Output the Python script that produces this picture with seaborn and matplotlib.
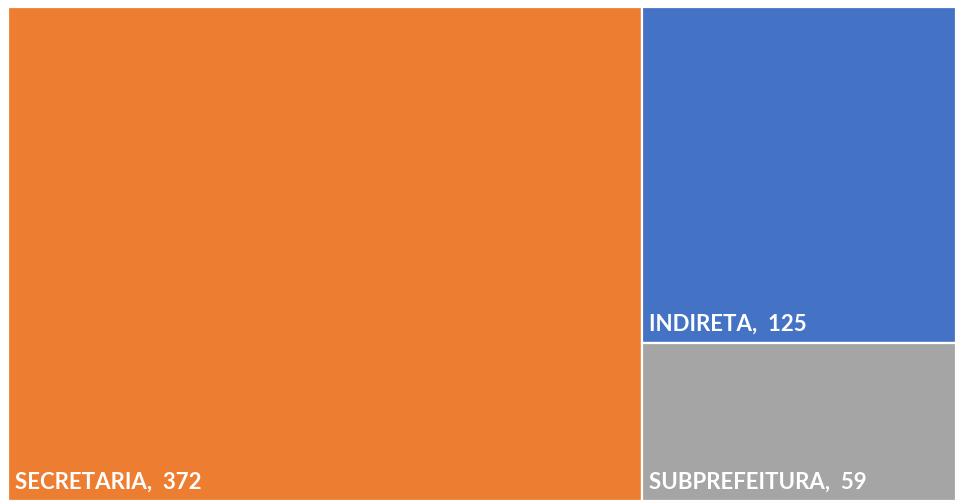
import numpy as np
import pandas as pd
import seaborn as sns
import matplotlib.pyplot as plt

categories = ["SECRETARIA", "INDIRETA", "SUBPREFEITURA"]
values = [372, 125, 59]
colors = ["#ED7D31", "#4472C4", "#A5A5A5"]

sns.set_theme(style="white")
plt.rcParams['font.family'] = ['Lato', 'DejaVu Sans']

df = pd.DataFrame({"cat": categories, "val": values, "color": colors})
total = df["val"].sum()

# simple slice-and-dice: first item takes a column, rest stacked on the right
first_w = df["val"][0] / total
rest = df["val"][1:].sum()
rects = [(0, 0, first_w, 1)]
y = 1.0
for v in df["val"][1:]:
    h = v / rest
    y -= h
    rects.append((first_w, y, 1 - first_w, h))

fig = plt.figure(figsize=(9.56, 5.01), dpi=100)
ax = fig.add_axes([8 / 956, 0, 948 / 956, 494 / 501])
for (x0, y0, w, h), row in zip(rects, df.itertuples()):
    ax.bar(x0, h, width=w, bottom=y0, align="edge", color=row.color,
           edgecolor="white", linewidth=1.6)
    ax.annotate(f"{row.cat},  {row.val}", (x0, y0), xytext=(5, 6),
                textcoords="offset points", color="white", fontsize=16,
                fontweight="bold", ha="left", va="bottom")

ax.set_xlim(0, 1)
ax.set_ylim(0, 1)
ax.axis("off")
fig.savefig("out.png", dpi=100)
